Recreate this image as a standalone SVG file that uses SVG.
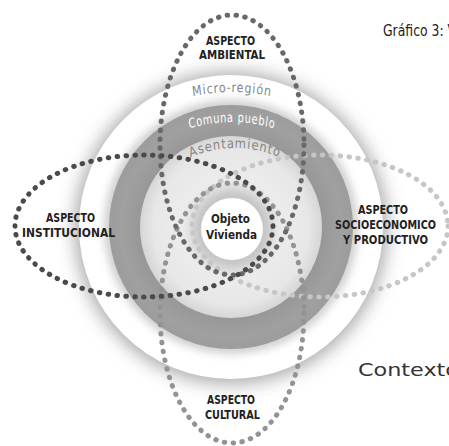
<svg xmlns="http://www.w3.org/2000/svg" width="449" height="446" viewBox="0 0 449 446">
<style>
.lbl{font-family:"Liberation Sans Narrow","DejaVu Sans Condensed","Liberation Sans",sans-serif;font-weight:700;font-size:13px;fill:#222;}
.arc{font-family:"DejaVu Sans","Liberation Sans",sans-serif;font-size:13.5px;letter-spacing:1px;}
.dots{fill:none;stroke-width:5;stroke-linecap:round;stroke-dasharray:0.5 8.4;}
</style>
<defs>
<filter id="blurBig" x="-30%" y="-30%" width="160%" height="160%"><feGaussianBlur stdDeviation="9"/></filter>
<filter id="blurMid" x="-30%" y="-30%" width="160%" height="160%"><feGaussianBlur stdDeviation="4"/></filter>
<filter id="blurCtr" x="-50%" y="-50%" width="200%" height="200%"><feGaussianBlur stdDeviation="6"/></filter>
<radialGradient id="innerGrad" cx="0.5" cy="0.5" r="0.5">
<stop offset="0" stop-color="#e2e2e2"/>
<stop offset="0.55" stop-color="#ececec"/>
<stop offset="0.85" stop-color="#e7e7e7"/>
<stop offset="1" stop-color="#d6d6d6"/>
</radialGradient>
<radialGradient id="ringGrad" cx="0.5" cy="0.5" r="0.5">
<stop offset="0.74" stop-color="#979797"/>
<stop offset="0.9" stop-color="#a0a0a0"/>
<stop offset="1" stop-color="#9c9c9c"/>
</radialGradient>
<path id="arcMicro" d="M -219.5,0 A 219.5 180 0 0 1 219.5,0"/>
<path id="arcComuna" d="M -194.4,0 A 194.4 140 0 0 1 194.4,0"/>
<path id="arcAsent" d="M -127.9,0 A 127.9 110 0 0 1 127.9,0"/>
</defs>
<rect width="449" height="446" fill="#fff"/>
<g id="micro-region">
<circle cx="231" cy="228" r="156" fill="#a9a9a9" filter="url(#blurBig)"/>
<circle cx="231" cy="227" r="152" fill="#fff"/>
<circle cx="231" cy="227" r="127" fill="#cfcfcf" filter="url(#blurMid)"/>
<text class="arc" fill="#868686" transform="translate(232,272) scale(0.82,1)"><textPath href="#arcMicro" startOffset="50%" text-anchor="middle">Micro-región</textPath></text>
</g>
<g id="comuna-pueblo">
<circle cx="231" cy="227" r="122" fill="url(#ringGrad)"/>
<text class="arc" fill="#fff" transform="translate(232,262) scale(0.72,1)"><textPath href="#arcComuna" startOffset="50%" text-anchor="middle">Comuna pueblo</textPath></text>
</g>
<g id="asentamiento">
<circle cx="231" cy="227" r="91" fill="url(#innerGrad)"/>
<circle cx="232" cy="229" r="40" fill="#c2c2c2" filter="url(#blurCtr)"/>
<text class="arc" fill="#858585" transform="translate(235,258) scale(0.86,1)"><textPath href="#arcAsent" startOffset="50%" text-anchor="middle">Asentamiento</textPath></text>
</g>
<g id="connectors">
<ellipse id="loop-socioeconomico" class="dots" cx="320" cy="226" rx="128" ry="71" stroke="#c6c6c6"/>
<ellipse id="loop-cultural" class="dots" cx="232" cy="313" rx="72" ry="130" stroke="#939393"/>
<ellipse id="loop-ambiental" class="dots" cx="232" cy="145" rx="72" ry="130" stroke="#686868"/>
<ellipse id="loop-institucional" class="dots" cx="144" cy="226" rx="129" ry="71" stroke="#4a4a4a"/>
</g>
<g id="objeto-vivienda">
<circle cx="232" cy="229" r="31" fill="#fff"/>
<text class="lbl" x="211" y="223" textLength="39" lengthAdjust="spacingAndGlyphs">Objeto</text>
<text class="lbl" x="206" y="239" textLength="51" lengthAdjust="spacingAndGlyphs">Vivienda</text>
</g>
<g id="aspecto-ambiental">
<text class="lbl" x="206" y="45" textLength="49" lengthAdjust="spacingAndGlyphs">ASPECTO</text>
<text class="lbl" x="199" y="59" textLength="66" lengthAdjust="spacingAndGlyphs">AMBIENTAL</text>
</g>
<g id="aspecto-institucional">
<text class="lbl" x="46" y="222" textLength="49" lengthAdjust="spacingAndGlyphs">ASPECTO</text>
<text class="lbl" x="22" y="237" textLength="93" lengthAdjust="spacingAndGlyphs">INSTITUCIONAL</text>
</g>
<g id="aspecto-socioeconomico">
<text class="lbl" x="358" y="214" textLength="50" lengthAdjust="spacingAndGlyphs">ASPECTO</text>
<text class="lbl" x="335" y="228.5" textLength="101" lengthAdjust="spacingAndGlyphs">SOCIOECONOMICO</text>
<text class="lbl" x="343" y="243.5" textLength="85" lengthAdjust="spacingAndGlyphs">Y PRODUCTIVO</text>
</g>
<g id="aspecto-cultural">
<text class="lbl" x="207" y="404" textLength="48" lengthAdjust="spacingAndGlyphs">ASPECTO</text>
<text class="lbl" x="205" y="419" textLength="55" lengthAdjust="spacingAndGlyphs">CULTURAL</text>
</g>
<g id="titles">
<text x="383" y="36" font-family="'Liberation Sans Narrow','DejaVu Sans Condensed','Liberation Sans',sans-serif" font-size="15" fill="#222" textLength="73" lengthAdjust="spacingAndGlyphs">Gráfico 3: V</text>
<text x="358" y="376" font-family="'Liberation Sans Narrow','DejaVu Sans Condensed','Liberation Sans',sans-serif" font-size="18" fill="#333" textLength="101" lengthAdjust="spacingAndGlyphs">Contexto</text>
</g>
</svg>
